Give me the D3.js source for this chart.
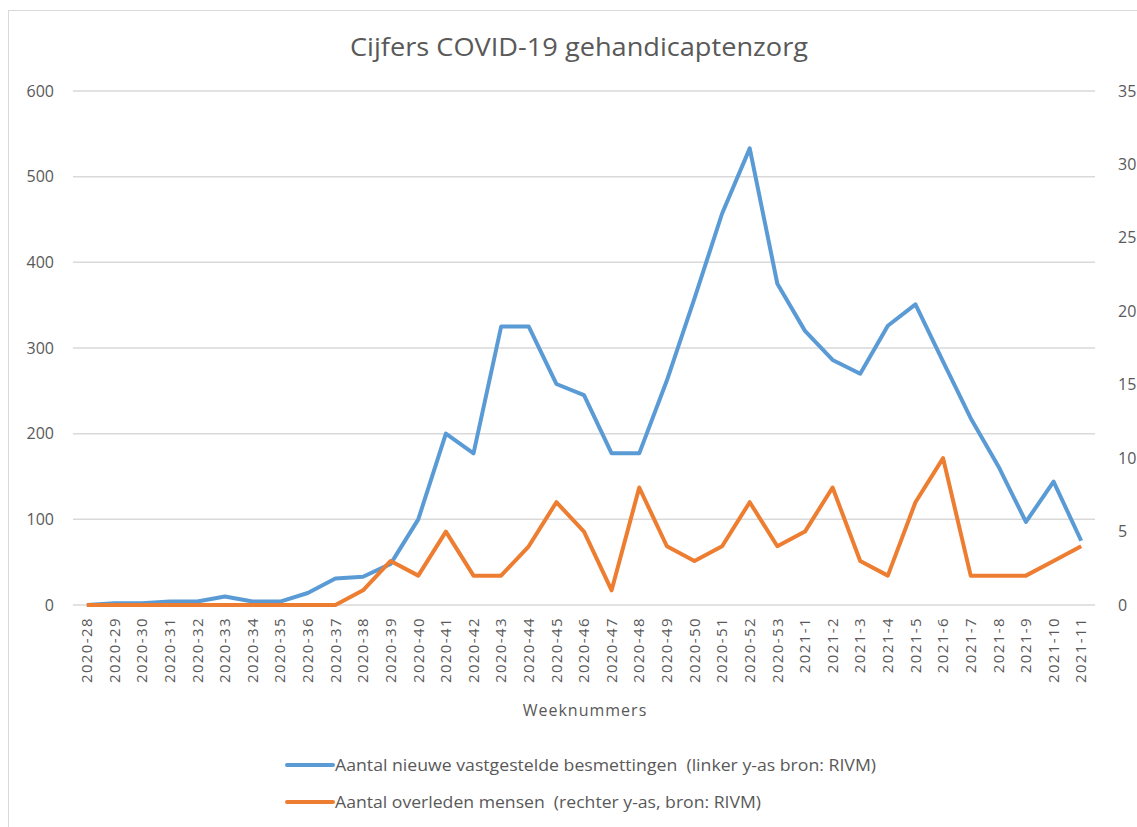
<!DOCTYPE html>
<html lang="nl">
<head>
  <meta charset="UTF-8">
  <title>Cijfers COVID-19 gehandicaptenzorg</title>
  <style>
    body { margin: 0; background: #fff; }
    text { font-family: "Open Sans", "Liberation Sans", sans-serif; fill: #595959; }
  </style>
</head>
<body>
  <svg id="svg" width="1137" height="827"></svg>

  <script src="https://d3js.org/d3.v7.min.js"></script>
  <script>
    // weeks on the x axis
    const weeks = [
      '2020-28', '2020-29', '2020-30', '2020-31', '2020-32', '2020-33', '2020-34', '2020-35',
      '2020-36', '2020-37', '2020-38', '2020-39', '2020-40', '2020-41', '2020-42', '2020-43',
      '2020-44', '2020-45', '2020-46', '2020-47', '2020-48', '2020-49', '2020-50', '2020-51',
      '2020-52', '2020-53', '2021-1', '2021-2', '2021-3', '2021-4', '2021-5', '2021-6',
      '2021-7', '2021-8', '2021-9', '2021-10', '2021-11'
    ]
    // new infections (left axis)
    const infections = [
      0, 2, 2, 4, 4, 10, 4, 4, 14, 31, 33, 48, 100, 200, 177, 325, 325, 258, 245, 177, 177,
      262, 358, 457, 533, 375, 320, 286, 270, 326, 351, 284, 218, 162, 97, 144, 75
    ]
    // deaths (right axis)
    const deaths = [
      0, 0, 0, 0, 0, 0, 0, 0, 0, 0, 1, 3, 2, 5, 2, 2, 4, 7, 5, 1, 8, 4, 3, 4, 7, 4,
      5, 8, 3, 2, 7, 10, 2, 2, 2, 3, 4
    ]
    const leftTicks = [0, 100, 200, 300, 400, 500, 600]
    const rightTicks = [0, 5, 10, 15, 20, 25, 30, 35]
    const seriesNames = [
      'Aantal nieuwe vastgestelde besmettingen  (linker y-as bron: RIVM)',
      'Aantal overleden mensen  (rechter y-as, bron: RIVM)'
    ]

    const blue = '#5b9bd5'
    const orange = '#ed7d31'

    const svg = d3.select('#svg')

    // chart area border
    svg.append('rect')
      .attr('x', 8.5).attr('y', 10.5)
      .attr('width', 1140).attr('height', 830)
      .attr('fill', 'none')
      .attr('stroke', '#d9d9d9')

    const xScale = d3.scaleBand()
      .domain(weeks)
      .range([73, 1095])

    const yLeft = d3.scaleLinear()
      .domain([0, 600])
      .range([605, 91])

    const yRight = d3.scaleLinear()
      .domain([0, 35])
      .range([605, 91])

    const xc = d => xScale(d) + xScale.bandwidth() / 2

    // gridlines
    svg.append('g')
      .selectAll('line')
      .data(leftTicks)
      .enter()
      .append('line')
      .attr('x1', 73).attr('x2', 1095)
      .attr('y1', d => yLeft(d)).attr('y2', d => yLeft(d))
      .attr('stroke', '#d9d9d9')
      .attr('stroke-width', 1.5)

    // left axis labels
    svg.append('g')
      .selectAll('text')
      .data(leftTicks)
      .enter()
      .append('text')
      .attr('x', 54)
      .attr('y', d => yLeft(d))
      .attr('dy', '0.35em')
      .attr('text-anchor', 'end')
      .style('font-size', '16px')
      .text(d => d)

    // right axis labels
    svg.append('g')
      .selectAll('text')
      .data(rightTicks)
      .enter()
      .append('text')
      .attr('x', 1118)
      .attr('y', d => yRight(d))
      .attr('dy', '0.35em')
      .style('font-size', '16px')
      .text(d => d)

    // x axis labels, rotated
    const xAxis = d3.axisBottom(xScale).tickSize(0).tickPadding(0)
    const gx = svg.append('g')
      .attr('transform', 'translate(0,605)')
      .call(xAxis)
    gx.select('.domain').remove()
    gx.selectAll('text')
      .attr('transform', 'rotate(-90)')
      .attr('x', -12)
      .attr('y', 0)
      .attr('dy', '0.35em')
      .attr('text-anchor', 'end')
      .style('font-size', '15px')
      .style('font-family', '"Open Sans", sans-serif')
      .style('letter-spacing', '1.4px')
      .attr('fill', '#595959')

    // lines
    const lineLeft = d3.line()
      .x((d, i) => xc(weeks[i]))
      .y(d => yLeft(d))
    const lineRight = d3.line()
      .x((d, i) => xc(weeks[i]))
      .y(d => yRight(d))

    svg.append('path')
      .datum(infections)
      .attr('d', lineLeft)
      .attr('fill', 'none')
      .attr('stroke', blue)
      .attr('stroke-width', 4)
      .attr('stroke-linejoin', 'round')

    svg.append('path')
      .datum(deaths)
      .attr('d', lineRight)
      .attr('fill', 'none')
      .attr('stroke', orange)
      .attr('stroke-width', 4)
      .attr('stroke-linejoin', 'round')

    // title
    svg.append('text')
      .attr('x', 579)
      .attr('y', 56)
      .attr('text-anchor', 'middle')
      .attr('textLength', 458)
      .attr('lengthAdjust', 'spacingAndGlyphs')
      .style('font-size', '26px')
      .text('Cijfers COVID-19 gehandicaptenzorg')

    // x axis title
    svg.append('text')
      .attr('x', 585)
      .attr('y', 716)
      .attr('text-anchor', 'middle')
      .style('font-size', '16px')
      .style('letter-spacing', '1px')
      .text('Weeknummers')

    // legend
    const legend = svg.append('g')
      .selectAll('g')
      .data(seriesNames)
      .enter()
      .append('g')
      .attr('transform', (d, i) => `translate(287,${765 + i * 37})`)
    legend.append('line')
      .attr('x1', 0).attr('x2', 46)
      .attr('stroke', (d, i) => i === 0 ? blue : orange)
      .attr('stroke-width', 4)
      .attr('stroke-linecap', 'round')
    legend.append('text')
      .attr('x', 48)
      .attr('dy', '0.35em')
      .attr('textLength', (d, i) => i === 0 ? 541 : 426)
      .attr('lengthAdjust', 'spacingAndGlyphs')
      .style('font-size', '16px')
      .style('white-space', 'pre')
      .text(d => d)
  </script>
</body>
</html>
